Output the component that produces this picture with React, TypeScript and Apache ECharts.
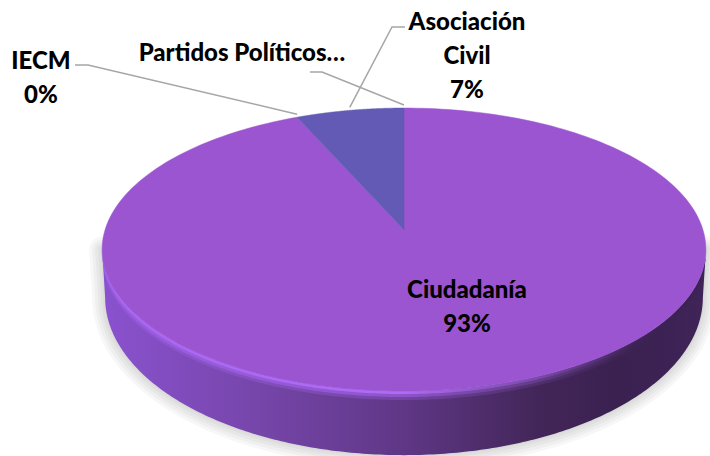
import React, { useEffect, useRef } from "react";
import * as echarts from "echarts";

const categories = ["Ciudadanía", "IECM", "Asociación Civil", "Partidos Políticos…"];
const values = [93.4, 0, 6.6, 0];
const percentLabels = ["93%", "0%", "7%", ""];
const sliceColors = ["#9b55d0", "#9b55d0", "#625ab4", "#625ab4"];

const FONT = "Lato";
const CX = 404, CY = 230, A = 299, B = 138.8, K = 0.138;
const project = (deg: number) => {
  const t = (deg * Math.PI) / 180;
  const u = Math.sin(t), v = Math.cos(t), d = 1 + K * v;
  return [CX + (A * u) / d, CY - (B * v) / d];
};
const arcPts = (a0: number, a1: number, n = 240) => {
  const pts: number[][] = [];
  for (let i = 0; i <= n; i++) pts.push(project(a0 + ((a1 - a0) * i) / n));
  return pts;
};
const lower = (p: number[]) => {
  const f = Math.max(0, (p[1] - 250) / 140);
  return [CX + (p[0] - CX) * 0.99, p[1] + 48 + 16 * f];
};
const total = values.reduce((s, v) => s + v, 0);
const startAngle = (i: number) => (values.slice(0, i).reduce((s, v) => s + v, 0) / total) * 360;
const endAngle = (i: number) => startAngle(i) + (values[i] / total) * 360;
const hGrad = (stops: [number, string][]) =>
  new echarts.graphic.LinearGradient(0, 0, 1, 0, stops.map(([offset, color]) => ({ offset, color })));

type LabelPlace = { lines: string[]; x: number; y: number; path?: number[][] };
const labelPlaces: LabelPlace[] = [
  { lines: [categories[0], percentLabels[0]], x: 467, y: 288 },
  { lines: [categories[1], percentLabels[1]], x: 41, y: 59, path: [[75, 65], [88, 65]] },
  { lines: ["Asociación", "Civil", percentLabels[2]], x: 467, y: 20, path: [[405, 27], [392, 27]] },
  { lines: [categories[3]], x: 242, y: 51, path: [[310, 72], [322, 72]] },
];

export default function App() {
  const ref = useRef<HTMLDivElement>(null);
  useEffect(() => {
    const chart = echarts.init(ref.current!, null, { renderer: "svg" });
    const front = arcPts(98, 262);
    const wall = front.concat(front.map(lower).reverse());
    const outline = [front[0], ...front.map(lower), front[front.length - 1]];
    const glow = [26, 20, 14, 8, 3].map((lineWidth) => ({
      type: "polyline",
      shape: { points: outline },
      style: { fill: "none", stroke: "#707070", opacity: 0.06, lineWidth, lineJoin: "round", lineCap: "round" },
    }));
    const bevelFill = hGrad([
      [0, "#aa68f4"],
      [0.5, "#ae6af8"],
      [0.72, "#7a4aa8"],
      [0.88, "#3f2458"],
      [1, "#3a2150"],
    ]);
    const bevel = [
      { h: 9, opacity: 0.25 },
      { h: 6, opacity: 0.45 },
      { h: 3, opacity: 1 },
    ].map(({ h, opacity }) => ({
      type: "polygon",
      shape: {
        points: front.concat(
          front
            .map((p) => {
              const l = lower(p);
              return [p[0] + (l[0] - p[0]) * (h / 50), p[1] + h];
            })
            .reverse()
        ),
      },
      style: { fill: bevelFill, opacity },
    }));
    chart.setOption({
      animation: false,
      backgroundColor: "#ffffff",
      series: [
        {
          type: "custom",
          coordinateSystem: "none",
          silent: true,
          z: 1,
          data: [0],
          renderItem: () => ({
            type: "group",
            children: [
              ...glow,
              {
                type: "polygon",
                shape: { points: wall },
                style: {
                  fill: hGrad([
                    [0, "#8a52cf"],
                    [0.25, "#7746ab"],
                    [0.5, "#5f3786"],
                    [0.72, "#432659"],
                    [0.85, "#3a2150"],
                    [1, "#3f2458"],
                  ]),
                },
              },
              ...bevel,
            ],
          }),
        },
        {
          type: "custom",
          coordinateSystem: "none",
          silent: true,
          z: 2,
          data: values,
          renderItem: (params: any) => {
            const i = params.dataIndex;
            if (!values[i]) return { type: "group", children: [] };
            const a0 = startAngle(i), a1 = endAngle(i);
            const pts = [[CX, CY], ...arcPts(a0, a1)];
            return {
              type: "polygon",
              shape: { points: pts },
              style: { fill: sliceColors[i], stroke: sliceColors[i], lineWidth: 0.5 },
            };
          },
        },
        {
          type: "custom",
          coordinateSystem: "none",
          silent: true,
          z: 3,
          data: values,
          renderItem: (params: any) => {
            const i = params.dataIndex;
            const place = labelPlaces[i];
            const children: any[] = place.lines.map((text, n) => ({
              type: "text",
              style: {
                text,
                x: place.x,
                y: place.y + n * 34,
                fill: "#000000",
                font: `900 24px ${FONT}`,
                align: "center",
                verticalAlign: "middle",
              },
            }));
            if (place.path) {
              const rim = project((startAngle(i) + endAngle(i)) / 2);
              const points = [...place.path, [rim[0], rim[1] - 3]];
              children.unshift({
                type: "polyline",
                shape: { points },
                style: { fill: "none", stroke: "#a6a6a6", lineWidth: 1.5 },
              });
            }
            return { type: "group", children };
          },
        },
      ],
    });
    return () => chart.dispose();
  }, []);
  return <div ref={ref} style={{ position: "absolute", left: 0, top: 0, width: 710, height: 456 }} />;
}
